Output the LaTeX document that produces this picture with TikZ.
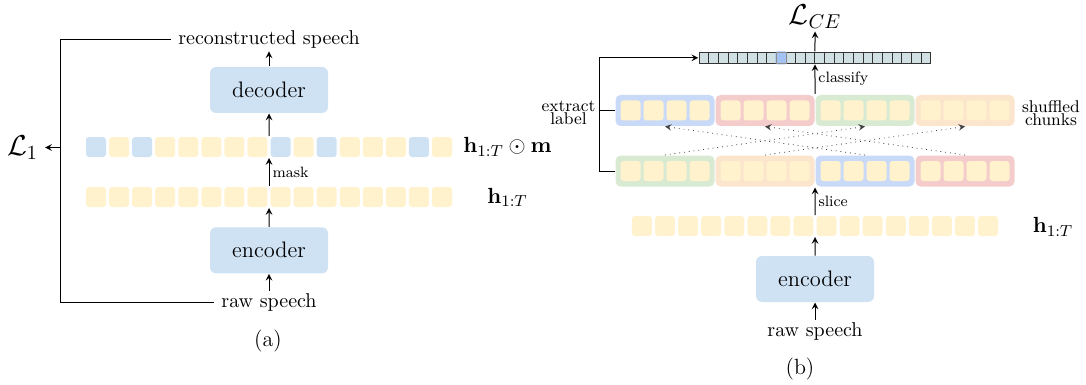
\documentclass[tikz,border=0pt]{standalone}
\usetikzlibrary{fit}
\definecolor{hyellow}{HTML}{FFF2CC}
\definecolor{mblue}{HTML}{CFE2F3}
\definecolor{cblue}{HTML}{C9DAF8}
\definecolor{cred}{HTML}{F4CCCC}
\definecolor{cgreen}{HTML}{D9EAD3}
\definecolor{corange}{HTML}{FCE5CD}
\definecolor{clscyan}{HTML}{D0E0E3}
\definecolor{hlblue}{HTML}{A4C2F4}
\tikzset{
  featcell/.style={fill=hyellow, rounded corners=1.5pt, minimum size=10pt, inner sep=0pt},
  chunk/.style={rounded corners=2.5pt, minimum width=49.5pt, minimum height=15.5pt, inner sep=0pt},
  block/.style={fill=mblue, rounded corners=3pt, minimum width=59pt, minimum height=23pt, font=\fontsize{11.2}{13}\selectfont},
  cls/.style={draw=black!80, fill=clscyan, minimum width=4.82pt, minimum height=5.5pt, inner sep=0pt},
  lbl/.style={font=\fontsize{7.5}{9}\selectfont, inner sep=1.5pt},
  sidetext/.style={font=\fontsize{8.5}{6.4}\selectfont, align=center, inner sep=0pt},
  feat/.style={font=\fontsize{11}{13}\selectfont},
  speech/.style={inner ysep=1pt},
}
\begin{document}
\begin{tikzpicture}[x=0.5pt,y=-0.5pt,line width=0.5pt]
\useasboundingbox (0,0) rectangle (1086,385);
% (a) masked reconstruction
\node[speech] (reca) at (269,40) {reconstructed speech};
\node[block] (deca) at (269,90) {decoder};
\foreach \c [count=\i from 0] in {mblue,hyellow,mblue,hyellow,hyellow,hyellow,hyellow,hyellow,mblue,hyellow,mblue,hyellow,hyellow,hyellow,mblue,hyellow}
  \node[featcell, fill=\c] (m\i) at ({96+23.07*\i},147) {};
\node[fit=(m0)(m15), inner sep=0pt] (mrow) {};
\foreach \i in {0,...,15}
  \node[featcell] (h\i) at ({96+23.07*\i},197) {};
\node[fit=(h0)(h15), inner sep=0pt] (hrow) {};
\node[block] (enca) at (269,250.3) {encoder};
\node[speech] (rawa) at (269,302) {raw speech};
\node[feat] at (507.5,147) {$\mathbf{h}_{1:T}\odot\mathbf{m}$};
\node[feat] at (507.5,197.5) {$\mathbf{h}_{1:T}$};
\draw[-stealth] (rawa) -- (enca);
\draw[-stealth] (enca) -- (hrow);
\draw[-stealth] (hrow) -- node[lbl, right] {mask} (mrow);
\draw[-stealth] (mrow) -- (deca);
\draw[-stealth] (deca) -- (reca);
% loss
\coordinate (ll) at (60.5,302);
\draw (reca.west) -| (ll) -- (rawa.west);
\node[font=\Large] (lone) at (22.5,147.5) {$\mathcal{L}_1$};
\draw[-stealth] (lone.east -| ll) -- (lone.east);
\node[feat] at (268,341.5) {(a)};
% (b) shuffled chunks
\node[font=\Large, inner sep=1pt] (lce) at (815,17) {$\mathcal{L}_{CE}$};
\foreach \i in {0,...,23}
  \node[cls] (c\i) at ({704.12+9.64*\i},57.8) {};
\node[cls, draw=hlblue, line width=1.4pt, rounded corners=1pt, opacity=0.6] at (c8) {};
\node[cls, fill=hlblue, draw=black!45] at (c8) {};
\node[fit=(c0)(c23), inner sep=0pt] (bar) {};
\foreach \c [count=\i from 0] in {cblue,cred,cgreen,corange} {
  \node[chunk, fill=\c] (t\i) at ({665+100*\i},110.5) {};
  \foreach \j in {0,...,3}
    \node[featcell] at ({630.5+100*\i+23*\j},110.5) {};
}
\foreach \c [count=\i from 0] in {cgreen,corange,cblue,cred} {
  \node[chunk, fill=\c] (b\i) at ({665+100*\i},171) {};
  \foreach \j in {0,...,3}
    \node[featcell] at ({630.5+100*\i+23*\j},171) {};
}
\node[fit=(t0)(t3), inner sep=0pt] (trow) {};
\node[fit=(b0)(b3), inner sep=0pt] (brow) {};
\foreach \i in {0,...,15}
  \node[featcell] (r\i) at ({641.975+23.07*\i},226) {};
\node[fit=(r0)(r15), inner sep=0pt] (rrow) {};
\node[block] (encb) at (815,279) {encoder};
\node[speech] (rawb) at (815,331) {raw speech};
\node[feat] at (1053,227) {$\mathbf{h}_{1:T}$};
\node[sidetext] at (1051,113) {shuffled\\chunks};
\node[sidetext, anchor=east] at (596,113) {extract\\label};
\draw[-stealth] (rawb) -- (encb);
\draw[-stealth] (encb) -- (rrow);
\draw[-stealth] (rrow) -- node[lbl, right] {slice} (brow);
\draw[-stealth] (trow) -- node[lbl, right] {classify} (bar);
\draw[-stealth] (bar) -- (lce);
\foreach \s/\t in {0/2,1/3,2/0,3/1}
  \draw[dotted, -stealth, black!75, line width=0.4pt] (b\s.north) -- (t\t.south);
% label extraction
\coordinate (xl) at (599.3,171);
\draw[-stealth] (b0.west) -- (xl) |- (bar.west);
\draw (t0.west) -- (t0.west -| xl);
\node[feat] at (800,369) {(b)};
\end{tikzpicture}
\end{document}
